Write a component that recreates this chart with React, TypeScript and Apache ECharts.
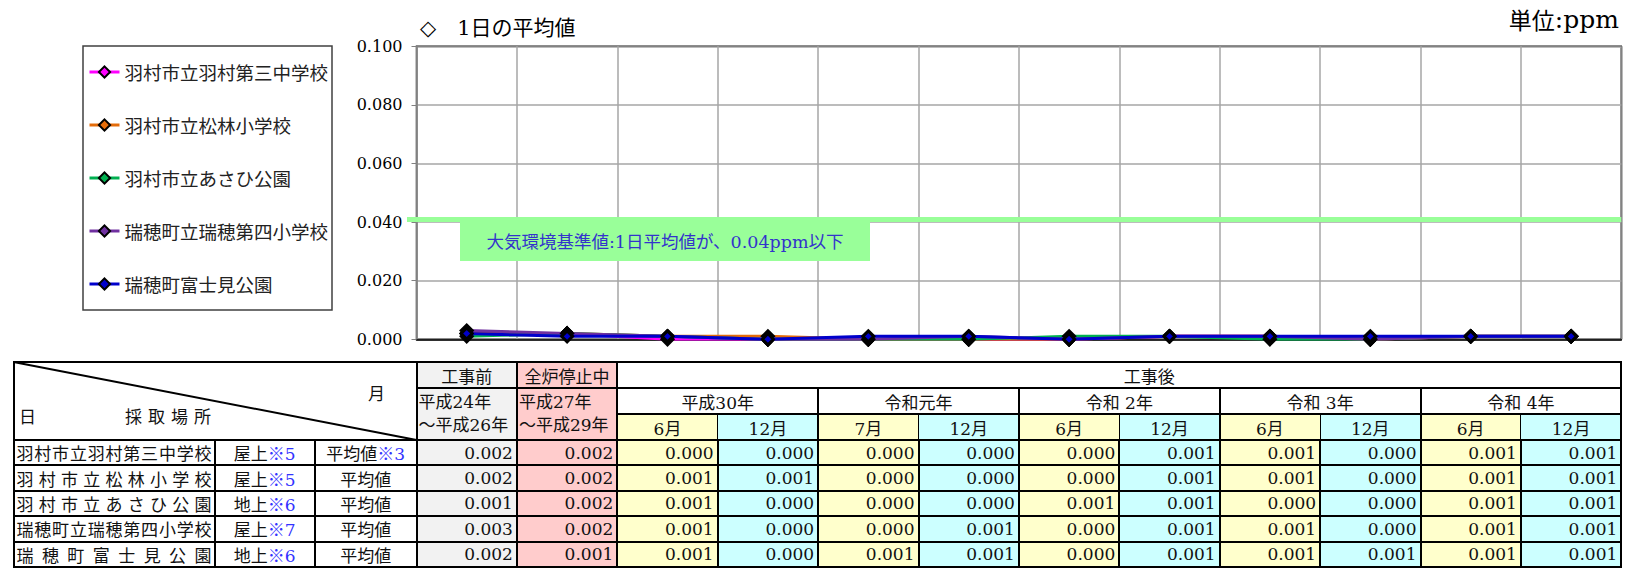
import React, { useEffect, useRef } from "react";
import * as echarts from "echarts";

// ---------------- data ----------------
const periods = [
  "工事前", "全炉停止中",
  "平成30年6月", "平成30年12月",
  "令和元年7月", "令和元年12月",
  "令和2年6月", "令和2年12月",
  "令和3年6月", "令和3年12月",
  "令和4年6月", "令和4年12月",
];
const siteNames = [
  "羽村市立羽村第三中学校",
  "羽村市立松林小学校",
  "羽村市立あさひ公園",
  "瑞穂町立瑞穂第四小学校",
  "瑞穂町富士見公園",
];
const siteColors = ["#FF00FF", "#E46C0A", "#00B050", "#7030A0", "#0000CC"];

const hamuraDaisanChu = [0.002, 0.002, 0.000, 0.000, 0.000, 0.000, 0.000, 0.001, 0.001, 0.000, 0.001, 0.001];
const hamuraShorinSho = [0.002, 0.002, 0.001, 0.001, 0.000, 0.000, 0.000, 0.001, 0.001, 0.000, 0.001, 0.001];
const hamuraAsahiKoen = [0.001, 0.002, 0.001, 0.000, 0.000, 0.000, 0.001, 0.001, 0.000, 0.000, 0.001, 0.001];
const mizuhoDaiyonSho = [0.003, 0.002, 0.001, 0.000, 0.000, 0.001, 0.000, 0.001, 0.001, 0.000, 0.001, 0.001];
const mizuhoFujimiKoen = [0.002, 0.001, 0.001, 0.000, 0.001, 0.001, 0.000, 0.001, 0.001, 0.001, 0.001, 0.001];
const siteValues = [hamuraDaisanChu, hamuraShorinSho, hamuraAsahiKoen, mizuhoDaiyonSho, mizuhoFujimiKoen];

const yMin = 0;
const yMax = 0.1;
const yInterval = 0.02;
const standardValue = 0.04;
const standardText = "大気環境基準値:1日平均値が、0.04ppm以下";
const chartTitle = "◇　1日の平均値";
const unitLabel = "単位";
const unitValue = ":ppm";

// table texts
const phaseLabels = ["工事前", "全炉停止中", "工事後"];
const phaseRanges = ["平成24年\n～平成26年", "平成27年\n～平成29年"];
const yearLabels = ["平成30年", "令和元年", "令和 2年", "令和 3年", "令和 4年"];
const monthLabels = ["6月", "12月", "7月", "12月", "6月", "12月", "6月", "12月", "6月", "12月"];
const samplingSpots = ["屋上", "屋上", "地上", "屋上", "地上"];
const spotNotes = ["※5", "※5", "※6", "※7", "※6"];
const statNames = ["平均値", "平均値", "平均値", "平均値", "平均値"];
const statNotes = ["※3", "", "", "", ""];

// ---------------- layout ----------------
const SERIF = "'DejaVu Serif','Noto Sans CJK JP',sans-serif";
const GRID_LEFT = 416.5;
const GRID_RIGHT_X = 1621.3;
const COLW = (GRID_RIGHT_X - GRID_LEFT) / 12;
const XS: number[] = [13.5, 214.5, 315, GRID_LEFT];
for (let k = 1; k <= 12; k++) XS.push(GRID_LEFT + k * COLW);
const YS = [362, 388, 414, 440, 465.4, 490.8, 516.2, 541.6, 567];

function colBg(i: number) {
  if (i === 0) return "#F2F2F2";
  if (i === 1) return "#FFCCCC";
  return i % 2 === 0 ? "#FFFFCC" : "#CCFFFF";
}

function Box(props: any) {
  const { x0, x1, y0, y1, bg, justify, children, style } = props;
  return (
    <div
      style={{
        position: "absolute",
        left: x0,
        top: y0,
        width: x1 - x0,
        height: y1 - y0,
        background: bg || "transparent",
        display: "flex",
        alignItems: "center",
        justifyContent: justify || "center",
        boxSizing: "border-box",
        whiteSpace: "nowrap",
        ...style,
      }}
    >
      {children}
    </div>
  );
}

function HLine({ y, x0, x1, w = 2 }: any) {
  return <div style={{ position: "absolute", left: x0 - 1, top: y - w / 2, width: x1 - x0 + 2, height: w, background: "#000" }} />;
}
function VLine({ x, y0, y1, w = 2 }: any) {
  return <div style={{ position: "absolute", left: x - w / 2, top: y0 - 1, width: w, height: y1 - y0 + 2, background: "#000" }} />;
}

function DataTable() {
  const cells: any[] = [];
  const lines: any[] = [];
  const left = XS[0];
  const right = XS[XS.length - 1];
  cells.push(<Box key="p0" x0={XS[3]} x1={XS[4]} y0={YS[0]} y1={YS[1]} bg={colBg(0)}>{phaseLabels[0]}</Box>);
  cells.push(<Box key="p1" x0={XS[4]} x1={XS[5]} y0={YS[0]} y1={YS[1]} bg={colBg(1)}>{phaseLabels[1]}</Box>);
  cells.push(<Box key="p2" x0={XS[5]} x1={right} y0={YS[0]} y1={YS[1]} bg="#fff" style={{ paddingLeft: 60 }}>{phaseLabels[2]}</Box>);
  phaseRanges.forEach((t, i) => {
    cells.push(
      <Box key={"r" + i} x0={XS[3 + i]} x1={XS[4 + i]} y0={YS[1]} y1={YS[3]} bg={colBg(i)} justify="flex-start"
        style={{ whiteSpace: "pre", lineHeight: "23px", paddingLeft: 2 }}>
        {t}
      </Box>
    );
  });
  yearLabels.forEach((t, i) => {
    cells.push(<Box key={"y" + i} x0={XS[5 + 2 * i]} x1={XS[7 + 2 * i]} y0={YS[1]} y1={YS[2]} bg="#fff">{t}</Box>);
  });
  monthLabels.forEach((t, i) => {
    cells.push(<Box key={"m" + i} x0={XS[5 + i]} x1={XS[6 + i]} y0={YS[2]} y1={YS[3]} bg={colBg(2 + i)}>{t}</Box>);
  });
  cells.push(<Box key="hd" x0={XS[0]} x1={XS[3]} y0={YS[0]} y1={YS[3]} bg="#fff" />);
  cells.push(<div key="hm" style={{ position: "absolute", left: 368, top: 380, fontSize: 17 }}>月</div>);
  cells.push(<div key="hn" style={{ position: "absolute", left: 19, top: 403, fontSize: 17 }}>日</div>);
  cells.push(<div key="hs" style={{ position: "absolute", left: 125, top: 403, fontSize: 17, letterSpacing: 6 }}>採取場所</div>);
  siteNames.forEach((name, r) => {
    const y0 = YS[3 + r];
    const y1 = YS[4 + r];
    cells.push(
      <Box key={"n" + r} x0={XS[0]} x1={XS[1]} y0={y0} y1={y1} bg="#fff" style={{ padding: "0 3px" }}>
        <div style={{ width: "100%", textAlign: "justify", textAlignLast: "justify" } as any}>{name}</div>
      </Box>
    );
    cells.push(
      <Box key={"s" + r} x0={XS[1]} x1={XS[2]} y0={y0} y1={y1} bg="#fff">
        {samplingSpots[r]}<span style={{ color: "#3333FF" }}>{spotNotes[r]}</span>
      </Box>
    );
    cells.push(
      <Box key={"t" + r} x0={XS[2]} x1={XS[3]} y0={y0} y1={y1} bg="#fff">
        {statNames[r]}<span style={{ color: "#3333FF" }}>{statNotes[r]}</span>
      </Box>
    );
    siteValues[r].forEach((v, c) => {
      cells.push(
        <Box key={"v" + r + "_" + c} x0={XS[3 + c]} x1={XS[4 + c]} y0={y0} y1={y1} bg={colBg(c)} justify="flex-end"
          style={{ paddingRight: 4 }}>
          {v.toFixed(3)}
        </Box>
      );
    });
  });
  lines.push(<HLine key="h0" y={YS[0]} x0={left} x1={right} />);
  lines.push(<HLine key="h1" y={YS[1]} x0={XS[3]} x1={right} />);
  lines.push(<HLine key="h2" y={YS[2]} x0={XS[5]} x1={right} />);
  for (let i = 3; i < YS.length; i++) lines.push(<HLine key={"h" + i} y={YS[i]} x0={left} x1={right} />);
  lines.push(<VLine key="v0" x={left} y0={YS[0]} y1={YS[8]} />);
  lines.push(<VLine key="v1" x={XS[1]} y0={YS[3]} y1={YS[8]} />);
  lines.push(<VLine key="v2" x={XS[2]} y0={YS[3]} y1={YS[8]} />);
  lines.push(<VLine key="v3" x={XS[3]} y0={YS[0]} y1={YS[8]} />);
  lines.push(<VLine key="v4" x={XS[4]} y0={YS[0]} y1={YS[8]} />);
  lines.push(<VLine key="v5" x={XS[5]} y0={YS[0]} y1={YS[8]} />);
  for (let k = 6; k < XS.length - 1; k++) {
    const yearBoundary = (k - 5) % 2 === 0;
    if (yearBoundary) lines.push(<VLine key={"v" + k} x={XS[k]} y0={YS[1]} y1={YS[8]} />);
    else {
      lines.push(<VLine key={"vm" + k} x={XS[k]} y0={YS[2]} y1={YS[3]} w={1} />);
      lines.push(<VLine key={"v" + k} x={XS[k]} y0={YS[3]} y1={YS[8]} />);
    }
  }
  lines.push(<VLine key="vr" x={right} y0={YS[0]} y1={YS[8]} />);

  return (
    <div style={{ position: "absolute", left: 0, top: 0, width: 1625, height: 568, fontFamily: SERIF, fontSize: 17, color: "#111", pointerEvents: "none" }}>
      {cells}
      {lines}
      <svg width={1625} height={568} style={{ position: "absolute", left: 0, top: 0 }}>
        <line x1={XS[0]} y1={YS[0]} x2={XS[3]} y2={YS[3]} stroke="#000" strokeWidth={2} />
      </svg>
    </div>
  );
}

export default function App() {
  const ref = useRef<HTMLDivElement>(null);
  useEffect(() => {
    if (!ref.current) return;
    const chart = echarts.init(ref.current, null, { renderer: "svg" });
    const option: any = {
      animation: false,
      backgroundColor: "#fff",
      title: [
        { text: chartTitle, left: 420, top: 17, padding: 0, textStyle: { fontSize: 21, fontWeight: "normal", color: "#000", fontFamily: SERIF } },
        {
          text: "{a|" + unitLabel + "}{b|" + unitValue + "}",
          right: 6,
          top: 5,
          padding: 0,
          textStyle: {
            fontWeight: "normal",
            rich: {
              a: { fontSize: 23, fontWeight: "normal", color: "#000", fontFamily: "'Noto Sans CJK JP'", lineHeight: 28 },
              b: { fontSize: 25, fontWeight: "normal", color: "#000", fontFamily: SERIF, lineHeight: 28 },
            },
          },
        },
      ],
      legend: {
        orient: "vertical",
        left: 88,
        top: 62,
        padding: 0,
        itemGap: 33,
        itemWidth: 30,
        itemHeight: 14,
        selectedMode: false,
        data: siteNames,
        textStyle: { fontSize: 18.5, lineHeight: 20, color: "#222", fontFamily: "'Noto Sans CJK JP'" },
        lineStyle: { width: 3 },
      },
      grid: {
        left: GRID_LEFT,
        right: 1625 - GRID_RIGHT_X,
        top: 46.3,
        bottom: 568 - 339.3,
        show: true,
        borderColor: "#1a1a1a",
        borderWidth: 1.5,
        backgroundColor: "transparent",
      },
      xAxis: {
        type: "category",
        data: periods,
        boundaryGap: true,
        axisLabel: { show: false },
        axisTick: { show: false },
        axisLine: { lineStyle: { color: "#000", width: 1.5 } },
        splitLine: { show: true, lineStyle: { color: "#A6A6A6", width: 1.5 } },
      },
      yAxis: {
        type: "value",
        min: yMin,
        max: yMax,
        interval: yInterval,
        axisLine: { show: true, lineStyle: { color: "#808080", width: 1.5 } },
        axisTick: { show: true, length: 5, lineStyle: { color: "#808080" } },
        axisLabel: { margin: 14, fontSize: 16, color: "#000", fontFamily: SERIF, formatter: (v: number) => v.toFixed(3) },
        splitLine: { show: true, lineStyle: { color: "#A6A6A6", width: 1.5 } },
      },
      series: siteNames.map((name, i) => ({
        name,
        type: "line",
        data: siteValues[i],
        symbol: "diamond",
        symbolSize: 11,
        color: siteColors[i],
        lineStyle: { color: siteColors[i], width: 3 },
        itemStyle: { color: siteColors[i], borderColor: "#000", borderWidth: 3 },
        emphasis: { disabled: true },
        silent: true,
        z: 3 + i,
      })),
    };
    chart.setOption(option);
    const yStd = chart.convertToPixel({ yAxisIndex: 0 }, standardValue) as number;
    chart.setOption({
      graphic: [
        {
          type: "rect",
          z: 0,
          silent: true,
          shape: { x: 83, y: 46, width: 249, height: 264 },
          style: { fill: "#fff", stroke: "#404040", lineWidth: 1.5 },
        },
        {
          type: "line",
          z: 5,
          silent: true,
          shape: { x1: 407, y1: yStd - 2.5, x2: GRID_RIGHT_X, y2: yStd - 2.5 },
          style: { stroke: "#99FF99", lineWidth: 5 },
        },
        {
          type: "rect",
          z: 5,
          silent: true,
          shape: { x: 460, y: yStd, width: 410, height: 39 },
          style: { fill: "#99FF99" },
        },
        {
          type: "text",
          z: 6,
          silent: true,
          x: 665,
          y: yStd + 20,
          style: {
            text: standardText,
            fill: "#3333CC",
            fontSize: 17.5,
            fontFamily: SERIF,
            align: "center",
            verticalAlign: "middle",
          },
        },
      ],
    });
    return () => chart.dispose();
  }, []);

  return (
    <div style={{ position: "absolute", left: 0, top: 0, width: 1625, height: 568, background: "#fff" }}>
      <div ref={ref} style={{ position: "absolute", left: 0, top: 0, width: 1625, height: 568 }} />
      <DataTable />
    </div>
  );
}
